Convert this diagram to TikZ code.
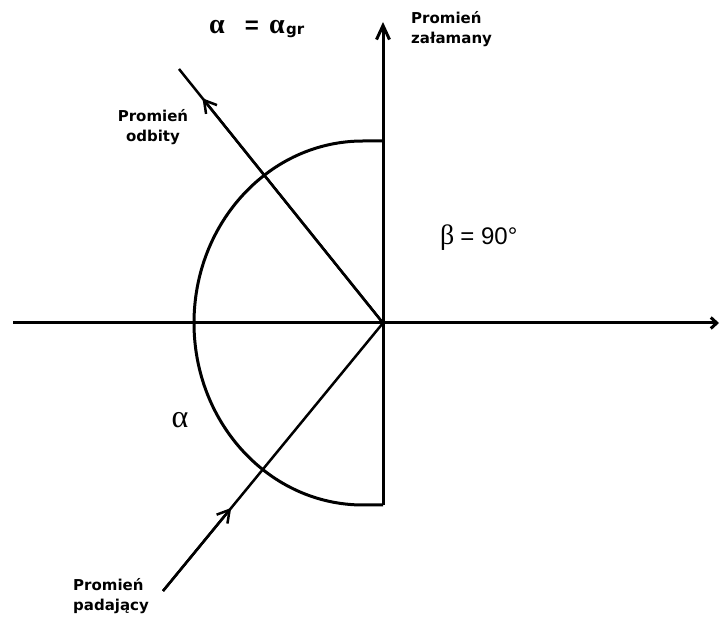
\documentclass[tikz,border=0pt]{standalone}
\usepackage{fontspec}
\setmainfont{DejaVu Sans}
\newfontfamily\lab{DejaVu Sans}
\newfontfamily\grk{Liberation Serif}
\newfontfamily\arl{Liberation Sans}
\usetikzlibrary{arrows.meta,calc}
\begin{document}
\begin{tikzpicture}[x=1pt,y=-1pt,
  axis/.style={line width=3pt},
  ray/.style={line width=2.5pt},
  lbl/.style={font=\lab\bfseries\fontsize{15}{20}\selectfont, inner sep=0pt},
  barb/.style={-{Straight Barb[length=12pt,width=14pt,line width=2.5pt]}}
]
\useasboundingbox (0,0) rectangle (721,617);
\coordinate (O) at (383,323);
\coordinate (L) at (13,323);
\coordinate (R) at (719,323);
\coordinate (B) at (383,505);
\coordinate (T) at (383,22);
\coordinate (AT) at (383,141);
\coordinate (I) at (163,591);
\coordinate (F) at (179,69);

\draw[axis, -{Straight Barb[length=6pt,width=11pt]}] (L) -- (R);
\draw[axis, -{Straight Barb[length=14pt,width=13pt]}] (B) -- (T);
\draw[axis] (AT) -- ++(-20,0) arc[start angle=270,end angle=90,x radius=169,y radius=182] -- (B);

\draw[ray] (I) -- (O);
\draw[ray] (O) -- (F);
\draw[ray,barb] (I) -- ($(I)!0.31!(O)$);
\draw[ray,barb] (O) -- ($(O)!0.885!(F)$);

\node[lbl, anchor=west, align=left] (zal) at (411,29) {Promień\\załamany};
\node[lbl, align=center] (odb) at (153,127) {Promień\\odbity};
\node[lbl, anchor=west, align=left] (pad) at (73,596) {Promień\\padający};
\node[font=\grk\fontsize{32}{32}\selectfont, inner sep=0pt] (al) at (180,420) {α};
\node[inner sep=0pt, anchor=west] (beta) at (440,238) {{\grk\fontsize{28}{28}\selectfont β}\hspace{6pt}{\arl\fontsize{24}{24}\selectfont = 90°}};

\node[font=\grk\bfseries\fontsize{28}{28}\selectfont, inner sep=0pt, anchor=base] (a1) at (217,34) {α};
\node[font=\arl\bfseries\fontsize{24}{24}\selectfont, inner sep=0pt, anchor=base] (eq) at (252,34) {=};
\node[font=\grk\bfseries\fontsize{28}{28}\selectfont, inner sep=0pt, anchor=base] (a2) at (277,34) {α};
\node[lbl, anchor=base west] (gr) at (286,35) {gr};
\end{tikzpicture}
\end{document}
